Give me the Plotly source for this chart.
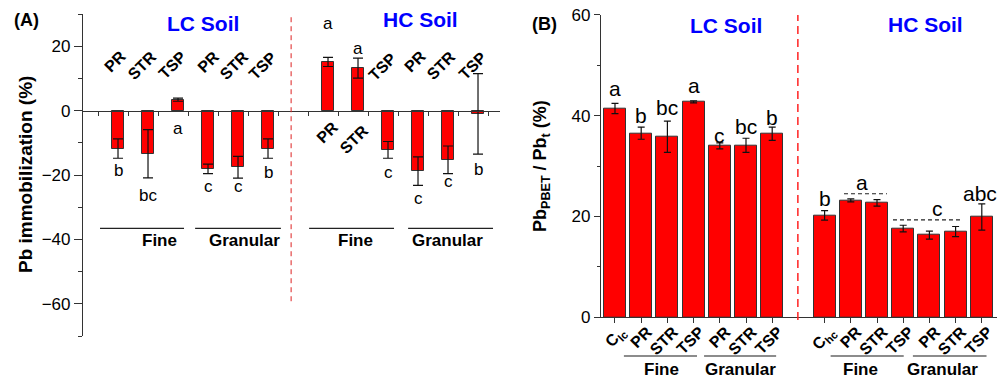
import plotly.graph_objects as go

W, H = 997, 380
FONT = "Liberation Sans, Arial, sans-serif"

# ---------------- Data: panel (A) Pb immobilization (%) ----------------
a_labels = ["PR", "STR", "TSP", "PR", "STR", "TSP", "PR", "STR", "TSP", "PR", "STR", "TSP"]
a_pos = [1, 2, 3, 4, 5, 6, 8, 9, 10, 11, 12, 13]
a_values = [-11.8, -13.4, 3.4, -18.1, -17.6, -11.8, 15.1, 13.2, -12.2, -18.8, -15.3, -1.0]
a_errors = [3.0, 7.5, 0.5, 1.5, 3.4, 3.0, 1.4, 3.1, 2.6, 4.4, 4.3, 12.5]
a_letters = ["b", "bc", "a", "c", "c", "b", "a", "a", "c", "c", "c", "b"]

# ---------------- Data: panel (B) Pb_PBET / Pb_t (%) ----------------
b_labels = ["C<sub>lc</sub>", "PR", "STR", "TSP", "PR", "STR", "TSP",
            "C<sub>hc</sub>", "PR", "STR", "TSP", "PR", "STR", "TSP"]
b_pos = [0, 1, 2, 3, 4, 5, 6, 8, 9, 10, 11, 12, 13, 14]
b_values = [41.4, 36.5, 35.8, 42.7, 34.0, 34.1, 36.4, 20.2, 23.2, 22.7, 17.6, 16.3, 17.0, 19.9]
b_errors = [1.0, 1.2, 3.1, 0.2, 0.6, 1.4, 1.3, 0.95, 0.3, 0.65, 0.65, 0.8, 1.0, 2.6]
b_letters = ["a", "b", "bc", "a", "c", "bc", "b", "b", "a", "c", "abc"]

group_names = ["Fine", "Granular", "Fine", "Granular"]


def px(p):
    return p / W


def py(p):
    return 1 - p / H


# layout geometry
A_XDOM = [px(83), px(500)]
A_YDOM = [py(336), py(14)]
A_XR = [-0.167, 13.733]
A_YR = [-70, 30]
B_XDOM = [px(601), 1.0]
B_YDOM = [py(317.3), py(14.7)]
B_XR = [-0.534, 14.58]
B_YR = [0, 60]

zero_pos = A_YDOM[0] + (0 - A_YR[0]) / (A_YR[1] - A_YR[0]) * (A_YDOM[1] - A_YDOM[0])

fig = go.Figure()

fig.add_trace(go.Bar(
    x=a_pos, y=a_values, xaxis="x", yaxis="y", width=0.4,
    marker=dict(color="#FF0000", line=dict(color="#333333", width=1)),
    error_y=dict(type="data", array=a_errors, color="#111111", thickness=1.2, width=5),
    showlegend=False, hoverinfo="skip",
))
fig.add_trace(go.Bar(
    x=b_pos, y=b_values, xaxis="x2", yaxis="y2", width=0.84,
    marker=dict(color="#FF0000", line=dict(color="#333333", width=1)),
    error_y=dict(type="data", array=b_errors, color="#111111", thickness=1.2, width=3.5),
    showlegend=False, hoverinfo="skip",
))

ann = []
shapes = []


def note(x, y, xref, yref, text, size, color="black", angle=0):
    ann.append(dict(x=x, y=y, xref=xref, yref=yref, text=text, showarrow=False,
                    xanchor="center", yanchor="middle", textangle=angle,
                    font=dict(size=size, color=color, family=FONT)))


# ---- Panel A letters
a_letter_y = [-18.6, -26.4, -5.6, -23.6, -23.6, -19.2, 27.0, 19.2, -19.2, -27.3, -22.0, -18.3]
for x, t, yy in zip(a_pos, a_letters, a_letter_y):
    note(x, yy, "x", "y", t, 17)

# ---- Panel A rotated treatment labels
a_lab_x = [0.9, 1.8, 2.8, 4.03, 4.87, 5.83, 7.97, 8.87, 9.83, 10.9, 11.77, 12.83]
a_lab_y = [15.2, 14.0, 14.0, 15.2, 14.0, 14.0, -6.8, -9.0, 13.6, 15.2, 14.0, 14.0]
for t, xx, yy in zip(a_labels, a_lab_x, a_lab_y):
    note(xx, yy, "x", "y", "<b>%s</b>" % t, 16, angle=-45)

# ---- Panel A group lines / labels
a_grp_lines = [(0.4, 3.2), (3.57, 6.43), (7.37, 10.2), (10.67, 13.5)]
a_grp_text_x = [2.37, 5.23, 8.93, 11.97]
for (x0, x1), tx, g in zip(a_grp_lines, a_grp_text_x, group_names):
    shapes.append(dict(type="line", xref="x", yref="y", x0=x0, x1=x1, y0=-36.6, y1=-36.6,
                       line=dict(color="#222222", width=1.3)))
    note(tx, -40.3, "x", "y", "<b>%s</b>" % g, 17)

# ---- Panel A dashed separator
shapes.append(dict(type="line", xref="x", yref="y", x0=6.77, x1=6.77, y0=-59.2, y1=29.5,
                   line=dict(color="#DD2222", width=1, dash="5px,4px")))

# ---- Panel B letters
b_letter_x = [0, 1, 2, 3, 4, 5, 6, 8, 9.43, 12.29, 13.93]
b_letter_y = [45.3, 40.1, 41.5, 45.9, 36.0, 37.8, 39.7, 23.5, 26.7, 21.5, 24.5]
for t, xx, yy in zip(b_letters, b_letter_x, b_letter_y):
    note(xx, yy, "x2", "y2", t, 21)

# ---- Panel B dashed group lines (HC)
shapes.append(dict(type="line", xref="x2", yref="y2", x0=8.74, x1=10.38, y0=24.5, y1=24.5,
                   line=dict(color="#222222", width=1.2, dash="4px,3px")))
shapes.append(dict(type="line", xref="x2", yref="y2", x0=10.61, x1=13.28, y0=19.3, y1=19.3,
                   line=dict(color="#222222", width=1.2, dash="4px,3px")))

# ---- Panel B group lines / labels (below axis)
b_grp_lines = [(0.34, 3.13), (3.4, 6.15), (8.23, 11.02), (11.37, 14.18)]
b_grp_text_x = [1.76, 4.8, 9.37, 12.5]
for (x0, x1), tx, g in zip(b_grp_lines, b_grp_text_x, group_names):
    shapes.append(dict(type="line", xref="x2", yref="paper", x0=x0, x1=x1, y0=py(356), y1=py(356),
                       line=dict(color="#666666", width=1.3)))
    note(tx, py(369), "x2", "paper", "<b>%s</b>" % g, 17)

# ---- Panel B dashed separator
shapes.append(dict(type="line", xref="x2", yref="paper", x0=6.98, x1=6.98, y0=py(320), y1=py(15),
                   line=dict(color="#FF2222", width=1.5, dash="8px,5px")))

# ---- Titles / panel tags
note(px(26), py(20), "paper", "paper", "<b>(A)</b>", 18)
note(px(203), py(24), "paper", "paper", "<b>LC Soil</b>", 21, "#0000FF")
note(px(420), py(19), "paper", "paper", "<b>HC Soil</b>", 21, "#0000FF")
note(px(544), py(24), "paper", "paper", "<b>(B)</b>", 18)
note(px(726), py(25.5), "paper", "paper", "<b>LC Soil</b>", 21, "#0000FF")
note(px(925), py(25), "paper", "paper", "<b>HC Soil</b>", 21, "#0000FF")
note(px(25), py(175), "paper", "paper", "<b>Pb immobilization (%)</b>", 19, angle=-90)
note(px(541), py(166), "paper", "paper", "<b>Pb<sub>PBET</sub> / Pb<sub>t</sub> (%)</b>", 18, angle=-90)

axcol = "#333333"
fig.update_layout(
    width=W, height=H, margin=dict(l=0, r=0, t=0, b=0, autoexpand=False),
    paper_bgcolor="white", plot_bgcolor="rgba(0,0,0,0)",
    font=dict(family=FONT, color="black"),
    bargap=0,
    xaxis=dict(domain=A_XDOM, range=A_XR, anchor="free", position=zero_pos, automargin=False,
               showline=True, linecolor=axcol, linewidth=1.2, ticks="outside", ticklen=4,
               tickcolor=axcol, tickvals=[k + 1 / 3 for k in range(14)], showticklabels=False,
               showgrid=False, zeroline=False, fixedrange=True),
    yaxis=dict(domain=A_YDOM, range=A_YR, anchor="x", automargin=False, showline=True,
               linecolor=axcol, linewidth=1.2,
               ticks="outside", ticklen=8, tickcolor=axcol, tick0=0, dtick=20,
               minor=dict(ticks="outside", ticklen=4, dtick=10, tick0=0, tickcolor=axcol),
               tickfont=dict(size=17, color="black"), showgrid=False, zeroline=False),
    xaxis2=dict(domain=B_XDOM, range=B_XR, anchor="y2", automargin=False, showline=True,
                linecolor=axcol, linewidth=1.2,
                ticks="outside", ticklen=5, tickcolor=axcol, tickvals=b_pos,
                ticktext=["<b>%s</b>" % t for t in b_labels], tickangle=-45,
                ticklabelshift=6, ticklabelstandoff=-7,
                tickfont=dict(size=16, color="black"), showgrid=False, zeroline=False),
    yaxis2=dict(domain=B_YDOM, range=B_YR, anchor="x2", automargin=False, showline=True,
                linecolor=axcol, linewidth=1.2,
                ticks="outside", ticklen=6, tickcolor=axcol, tick0=0, dtick=20,
                minor=dict(ticks="outside", ticklen=3, dtick=10, tick0=0, tickcolor=axcol),
                tickfont=dict(size=17, color="black"), showgrid=False, zeroline=False),
    annotations=ann, shapes=shapes,
)

fig.write_html("out.html", config={"displayModeBar": False},
               post_script="document.body.style.margin='0';document.body.style.overflow='hidden';")
